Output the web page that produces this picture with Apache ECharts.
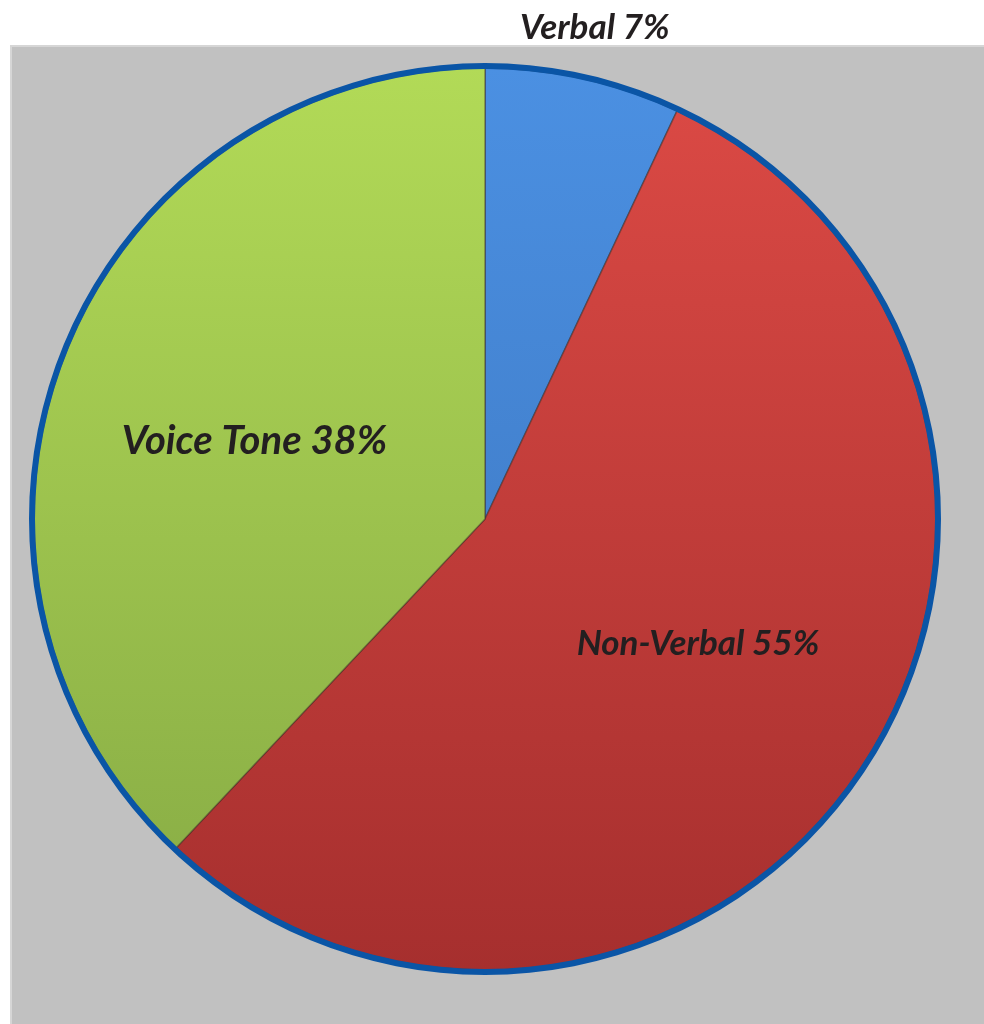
<!DOCTYPE html>
<html>
<head>
<meta charset="utf-8">
<script src="https://cdn.jsdelivr.net/npm/echarts@6/dist/echarts.min.js"></script>
<style>html,body{margin:0;padding:0;background:#fff}#c{width:984px;height:1024px}</style>
</head>
<body>
<div id="c"></div>
<script>
const categories = ['Verbal', 'Non-Verbal', 'Voice Tone'];
const values = [7, 55, 38];

const fills = [
  ['#4b90e2', '#3a72ba'],
  ['#dc4a45', '#a62f2e'],
  ['#b2da57', '#86aa44']
];
const labelOffsets = [[60, -268], [24, -4], [-18, 6]];
const labelSizes = [35, 35, 40];

const chart = echarts.init(document.getElementById('c'), null, {renderer: 'canvas'});
const grad = (c) => new echarts.graphic.LinearGradient(0, 67, 0, 972, [
  {offset: 0, color: c[0]}, {offset: 1, color: c[1]}
], true);

chart.setOption({
  backgroundColor: '#ffffff',
  animation: false,
  graphic: [{
    type: 'rect', z: -10,
    shape: {x: 11, y: 46, width: 980, height: 990},
    style: {fill: '#c1c1c1', stroke: '#d6d6d6', lineWidth: 2}
  }],
  series: [{
    type: 'pie',
    center: [485, 519],
    radius: [0, 451],
    startAngle: 90,
    clockwise: true,
    silent: true,
    data: categories.map((n, i) => ({
      name: n, value: values[i],
      itemStyle: {color: grad(fills[i])},
      label: {offset: labelOffsets[i], fontSize: labelSizes[i]}
    })),
    itemStyle: {borderColor: 'rgba(60,40,30,0.45)', borderWidth: 1.5},
    label: {
      show: true, position: 'inside',
      formatter: p => p.name + ' ' + p.value + '%',
      fontFamily: 'Lato', fontWeight: 'bold', fontStyle: 'italic',
      fontSize: 35, color: '#231f20'
    },
    labelLine: {show: false}
  }, {
    type: 'pie',
    center: [485, 519],
    radius: [450, 456],
    silent: true,
    label: {show: false},
    labelLine: {show: false},
    data: [{value: 1, itemStyle: {color: '#0a55a6'}}]
  }]
});
</script>
</body>
</html>
